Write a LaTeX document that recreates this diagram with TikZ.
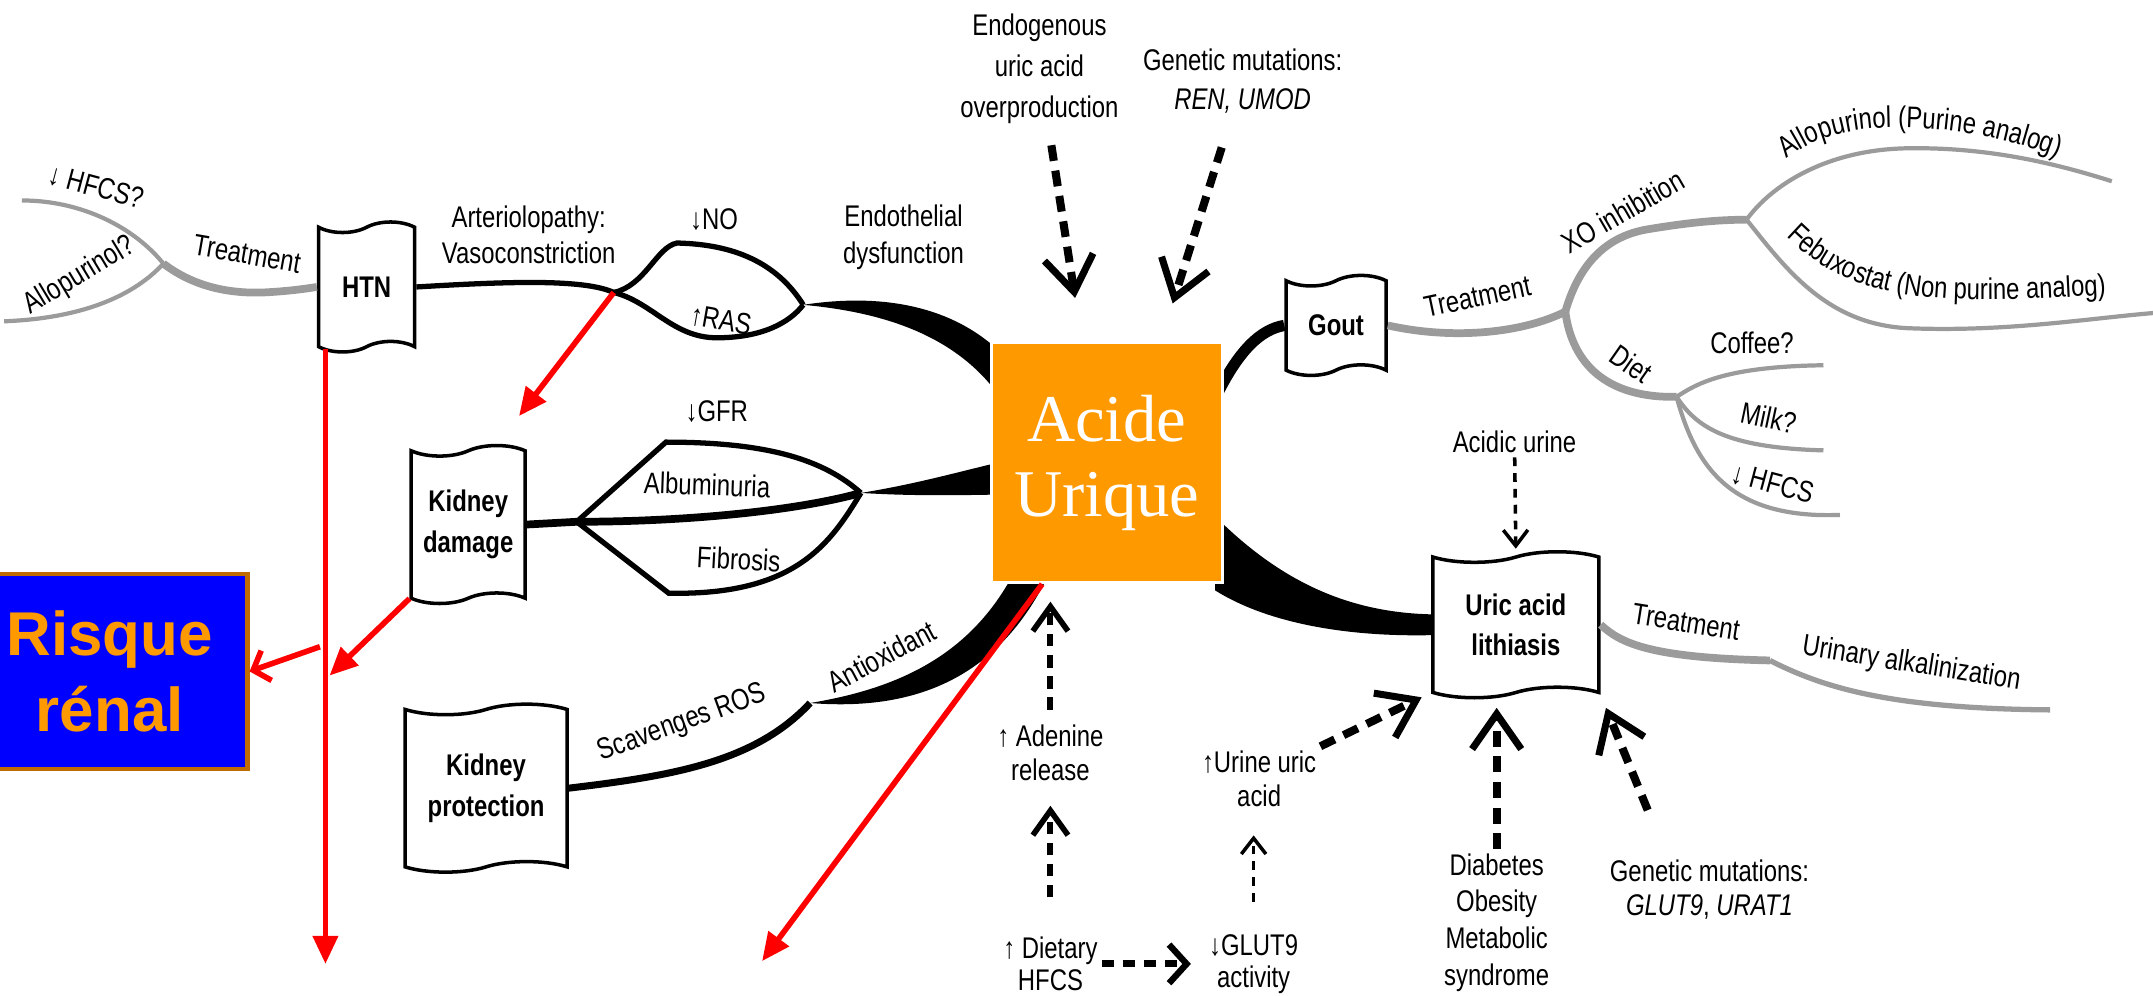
\documentclass[tikz,border=0pt]{standalone}
\usepackage{fontspec}
\setmainfont{Liberation Sans}[FakeStretch=0.8]
\newfontfamily\uqfont{Liberation Serif}
\newfontfamily\riskfont{Liberation Sans}
\newcommand\labfont{\fontsize{8.5}{10.5}\selectfont}
\usetikzlibrary{shapes.symbols,arrows.meta,decorations.text}
\definecolor{uqorange}{RGB}{255,153,0}
\definecolor{riskblue}{RGB}{0,0,255}
\definecolor{riskbrown}{RGB}{192,108,0}
\definecolor{branchgray}{RGB}{155,155,155}
\begin{document}
\begin{tikzpicture}
        [x=0.01373cm, y=-0.01373cm,
        font=\labfont,
        lbl/.style={inner sep=1pt, align=center},
        flag/.style={tape, draw, line width=1pt, fill=white, tape bend height=3pt, inner sep=1pt,
            font=\fontsize{8.5}{11.5}\selectfont\bfseries, align=center},
        uqbox/.style={rectangle, fill=uqorange, draw=white, line width=0.8pt, minimum width=2.31cm,
            minimum height=2.4cm, text=white, font=\uqfont\fontsize{19}{21.5}\selectfont, align=center},
        riskbox/.style={rectangle, fill=riskblue, draw=riskbrown, line width=1.3pt, minimum width=2.75cm,
            minimum height=1.95cm, text=uqorange, font=\riskfont\bfseries\fontsize{17.6}{21.5}\selectfont, align=center},
        curvetext/.style={postaction={decorate}, decoration={text along path, text align=center, text={|\labfont|#1}}},
        gbranch/.style={draw=branchgray, line width=1.2pt},
        gtrunk/.style={draw=branchgray, line width=2.2pt},
        bline/.style={line width=1.5pt},
        bigdash/.style={line width=2.3pt, dash pattern=on 4.5pt off 2.8pt,
            -{Straight Barb[length=10pt,width=14pt,line width=2pt]}},
        meddash/.style={line width=1.7pt, dash pattern=on 3.5pt off 2.5pt,
            -{Straight Barb[length=7pt,width=10pt,line width=1.6pt]}},
        flatdash/.style={line width=2pt, dash pattern=on 3.5pt off 2.5pt,
            -{Straight Barb[length=5pt,width=11pt,line width=1.8pt]}},
        thindash/.style={line width=1pt, dash pattern=on 2.5pt off 2pt,
            -{Straight Barb[length=4.5pt,width=7pt,line width=1pt]}},
        redarr/.style={draw=red, line width=1.6pt, -{Triangle[length=8pt,width=7pt]}},
        redbarb/.style={draw=red, line width=1.6pt, -{Straight Barb[length=4pt,width=9pt,line width=1.6pt]}}]
        \useasboundingbox (0,0) rectangle (1568,725);
        \coordinate (lt) at (16,146);
        \coordinate (lb) at (3,234);
        \coordinate (lj) at (119,192);
        \coordinate (j0) at (447,213);
        \coordinate (j1) at (585,222);
        \coordinate (kj) at (420,380);
        \coordinate (j2) at (627,359);
        \coordinate (j3) at (590,512);
        \coordinate (gj) at (1140,227);
        \coordinate (xj) at (1272,160);
        \coordinate (dj) at (1221,289);
        \coordinate (alloEnd) at (1538,132);
        \coordinate (febuEnd) at (1568,228);
        \coordinate (coffeeEnd) at (1328,266);
        \coordinate (milkEnd) at (1328,328);
        \coordinate (hfcsEnd) at (1340,375);
        \coordinate (lj2) at (1289,481);
        \coordinate (urEnd) at (1493,517);
        \node (hfcsL) at (70,136) [lbl, rotate=-15] {↓ HFCS?};
        \node (alloL) at (58,201) [lbl, rotate=31] {Allopurinol?};
        \node (trL) at (180,185) [lbl, rotate=-10] {Treatment};
        \node (htn) at (267,209) [flag, minimum width=0.96cm, minimum height=1.3cm] {HTN};
        \node (arter) at (385,171) [lbl] {Arteriolopathy:\\Vasoconstriction};
        \node (no) at (520,160) [lbl] {↓NO};
        \node (ras) at (525,233) [lbl, rotate=-10] {↑RAS};
        \node (endo) at (658,173) [lbl] {Endothelial\\dysfunction};
        \node (kd) at (341,382) [flag, minimum width=1.14cm, minimum height=1.58cm] {Kidney\\damage};
        \node (gfr) at (522,300) [lbl] {↓GFR};
        \node (albu) at (515,353) [lbl, rotate=-2] {Albuminuria};
        \node (fib) at (538,407) [lbl, rotate=-3] {Fibrosis};
        \node (kp) at (354,574) [flag, minimum width=1.62cm, minimum height=1.68cm] {Kidney\\protection};
        \node (scav) at (497,527) [lbl, rotate=20] {Scavenges ROS};
        \node (anti) at (642,478) [lbl, rotate=28] {Antioxidant};
        \node (endog) at (757,50) [lbl, font=\fontsize{8.5}{11.7}\selectfont] {Endogenous\\uric acid\\overproduction};
        \node (genA) at (905,59) [lbl, font=\fontsize{8.5}{11}\selectfont] {Genetic mutations:\\\textit{REN, UMOD}};
        \node (gout) at (973,237) [flag, minimum width=1.0cm, minimum height=1.0cm] {Gout};
        \node (trG) at (1076,216) [lbl, rotate=12] {Treatment};
        \node (xo) at (1182,154) [lbl, rotate=30] {XO inhibition};
        \node (diet) at (1188,265) [lbl, rotate=-35] {Diet};
        \node (coffee) at (1276,250) [lbl] {Coffee?};
        \node (milk) at (1288,304) [lbl, rotate=-12] {Milk?};
        \node (hfcsR) at (1291,352) [lbl, rotate=-15] {↓ HFCS};
        \node (acid) at (1103,322) [lbl] {Acidic urine};
        \node (lith) at (1104,455) [flag, minimum width=1.66cm, minimum height=1.46cm] {Uric acid\\lithiasis};
        \node (trLi) at (1228,453) [lbl, rotate=-9] {Treatment};
        \node (urin) at (1392,484) [lbl, rotate=-9] {Urinary alkalinization};
        \node (aden) at (765,548) [lbl, font=\fontsize{8.5}{9.7}\selectfont] {↑ Adenine\\release};
        \node (diety) at (765,702) [lbl, font=\fontsize{8.5}{9.2}\selectfont] {↑ Dietary\\HFCS};
        \node (glut) at (913,702) [lbl, font=\fontsize{8.5}{9.2}\selectfont] {↓GLUT9\\activity};
        \node (urine) at (917,567) [lbl, font=\fontsize{8.5}{9.7}\selectfont] {↑Urine uric\\acid};
        \node (dia) at (1090,672) [lbl] {Diabetes\\Obesity\\Metabolic\\syndrome};
        \node (genB) at (1245,648) [lbl, font=\fontsize{8.5}{9.5}\selectfont] {Genetic mutations:\\\textit{GLUT9}, \textit{URAT1}};
        \node (risk) at (80,489) [riskbox] {Risque\\rénal};
        \path[curvetext={Allopurinol (Purine analog)}] (1292,124) .. controls (1318,98) and (1350,93) .. (1382,93) .. controls (1430,93) and (1472,103) .. (1510,119);
        \path[curvetext={Febuxostat (Non purine analog)}] (1290,160) .. controls (1345,225) and (1410,222) .. (1550,214);
        \draw[gbranch] (lt) .. controls (60,146) and (98,166) .. (lj);
        \draw[gbranch] (lb) .. controls (55,232) and (95,218) .. (lj);
        \draw[gtrunk] (lj) .. controls (140,208) and (165,214) .. (192,213) .. controls (212,212) and (224,210) .. (htn.west);
        \draw[bline] (htn.east) .. controls (370,205) and (425,203) .. (j0);
        \draw[bline] (j0) .. controls (470,208) and (478,180) .. (493,177) .. controls (540,178) and (568,195) .. (j1);
        \draw[bline] (j0) .. controls (475,220) and (490,246) .. (522,246) .. controls (555,246) and (575,235) .. (j1);
        \fill (j1) .. controls (650,212) and (712,225) .. (748,280) -- (738,305) .. controls (708,248) and (650,228) .. (j1) -- cycle;
        \draw[line width=2.2pt] (kd.east) -- (kj) .. controls (500,380) and (580,372) .. (j2);
        \draw[bline] (kj) -- (485,322) .. controls (560,322) and (600,335) .. (j2);
        \draw[bline] (kj) -- (487,432) .. controls (580,434) and (605,395) .. (j2);
        \fill (j2) .. controls (670,352) and (700,343) .. (735,335) -- (735,360) .. controls (690,361) and (660,361) .. (j2) -- cycle;
        \draw[line width=2pt] (kp.east) .. controls (490,565) and (550,555) .. (j3);
        \fill (j3) .. controls (650,502) and (705,480) .. (738,418) -- (762,422) .. controls (725,495) and (665,518) .. (j3) -- cycle;
        \draw[line width=3.2pt] (885,290) .. controls (902,255) and (918,240) .. (gout.west);
        \fill (885,376) .. controls (935,426) and (985,446) .. (lith.173) -- (lith.187) .. controls (975,464) and (920,452) .. (885,430) -- cycle;
        \draw[gtrunk] (gout.east) .. controls (1060,248) and (1110,242) .. (gj);
        \draw[gtrunk] (gj) .. controls (1150,192) and (1170,172) .. (1200,167) .. controls (1230,162) and (1252,160) .. (xj);
        \draw[gtrunk] (gj) .. controls (1145,265) and (1170,290) .. (dj);
        \draw[gbranch] (xj) .. controls (1290,135) and (1330,109) .. (1389,108) .. controls (1450,107) and (1500,120) .. (alloEnd);
        \draw[gbranch] (xj) .. controls (1300,195) and (1330,236) .. (1389,239) .. controls (1460,242) and (1520,232) .. (febuEnd);
        \draw[gbranch] (dj) .. controls (1235,280) and (1255,267) .. (coffeeEnd);
        \draw[gbranch] (dj) .. controls (1235,310) and (1255,326) .. (milkEnd);
        \draw[gbranch] (dj) .. controls (1235,340) and (1260,378) .. (hfcsEnd);
        \draw[gtrunk] (lith.east) .. controls (1180,468) and (1200,479) .. (lj2);
        \draw[draw=branchgray, line width=1.5pt] (lj2) .. controls (1330,502) and (1380,516) .. (urEnd);
        \node (uq) at (806,337) [uqbox] {Acide\\Urique};
        \coordinate (endogEnd) at (783,217);
        \coordinate (genAEnd) at (854,221);
        \coordinate (genBs) at (1200,590);
        \coordinate (rTop) at (237,254);
        \coordinate (rBot) at (237,702);
        \coordinate (rMid) at (240,492);
        \coordinate (rLeft) at (233,471);
        \coordinate (kdTip) at (378,303);
        \coordinate (rEnd) at (555,700);
        \draw[bigdash, shorten <=5pt] (endog) -- (endogEnd);
        \draw[bigdash, shorten <=9pt] (genA) -- (genAEnd);
        \draw[thindash, shorten >=2pt] (acid) -- (lith.north);
        \draw[meddash, shorten <=3pt, shorten >=5pt] (aden) -- (aden |- uq.south);
        \draw[meddash, shorten <=10pt, shorten >=6pt] (diety) -- (aden);
        \draw[flatdash, shorten >=4pt] (diety) -- (glut);
        \draw[thindash, shorten <=8pt, shorten >=7pt] (glut) -- (glut |- urine.south);
        \draw[bigdash, shorten >=3pt] (urine.north east) -- (lith.south west);
        \draw[bigdash, shorten >=4pt] (dia.north) -- (dia.north |- lith.south);
        \draw[bigdash, shorten >=4pt] (genBs) -- (lith.south east);
        \draw[redarr] (rTop) -- (rBot);
        \draw[redarr] (j0) -- (kdTip);
        \draw[redarr] (kd.south west) -- (rMid);
        \draw[redbarb] (rLeft) -- (risk.east);
        \draw[redarr] (uq.-118) -- (rEnd);
     \end{tikzpicture}
\end{document}
